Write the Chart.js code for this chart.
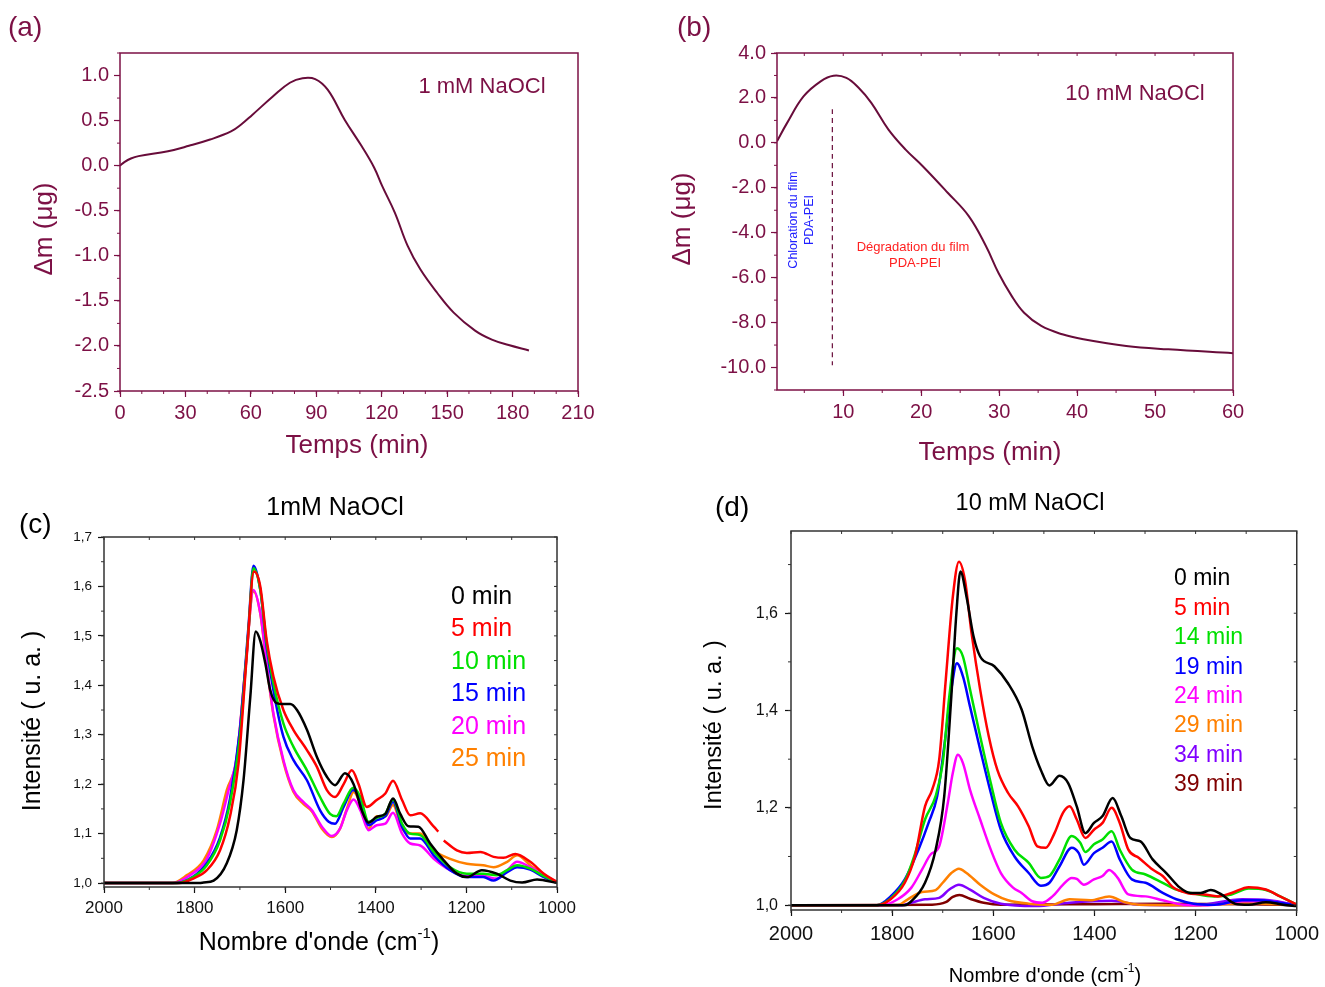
<!DOCTYPE html>
<html lang="fr">
<head>
  <meta charset="UTF-8">
  <title>PDA-PEI / NaOCl</title>
  <script src="https://cdn.jsdelivr.net/npm/chart.js"></script>
  <style>
    body { margin: 0; background: #fff; }
    #wrap { position: relative; width: 1325px; height: 987px; }
    canvas { position: absolute; }
  </style>
</head>
<body>
<div id="wrap">
  <canvas id="chartA" width="660" height="475" style="left:0;top:0"></canvas>
  <canvas id="chartB" width="665" height="475" style="left:660px;top:0"></canvas>
  <canvas id="chartC" width="660" height="512" style="left:0;top:475px"></canvas>
  <canvas id="chartD" width="665" height="512" style="left:660px;top:475px"></canvas>
</div>
<script>
// ---- data (a) : 1 mM NaOCl, QCM  [temps min, delta m ug]
const massA = [[0, 0.0], [2, 0.04], [5, 0.08], [8.5, 0.106], [22, 0.16], [31.6, 0.22], [41.3, 0.29], [50.9, 0.38],
  [55.7, 0.46], [60.5, 0.56], [70.2, 0.77], [77.9, 0.92], [83.7, 0.97], [89.5, 0.96], [95.3, 0.84], [103, 0.51],
  [110.7, 0.22], [116.5, -0.02], [120.3, -0.23], [126, -0.52], [131.9, -0.89], [137.7, -1.15], [145.4, -1.41],
  [153, -1.63], [162.8, -1.83], [170.5, -1.93], [178.2, -1.99], [187.5, -2.05]];

// ---- data (b) : 10 mM NaOCl, QCM
const massB = [[1.5, 0.07], [2.8, 0.89], [4.9, 2.07], [7.1, 2.74], [8.75, 2.99], [10.4, 2.89], [12.0, 2.44],
  [13.6, 1.78], [15.8, 0.59], [18, -0.3], [20.2, -1.04], [23.4, -2.22], [26.1, -3.26], [28.3, -4.59], [29.9, -5.78],
  [31.6, -6.81], [33.2, -7.56], [35.4, -8.15], [38.1, -8.52], [40.8, -8.74], [46.3, -9.04], [51.7, -9.19], [60, -9.36]];
const markerB = [[8.6, 1.5], [8.6, -9.9]];

// ---- data (c) : 1mM NaOCl IR spectra [nombre d'onde, intensite]
const cLabels = ['0 min', '5 min', '10 min', '15 min', '20 min', '25 min'];
const cColors = ['#000000', '#ff0000', '#00e000', '#0000ff', '#ff00ff', '#ff8000'];
const c0 = [[2000, 1.0], [1790, 1.0], [1780, 1.001], [1758, 1.005], [1729, 1.04], [1707, 1.107], [1692, 1.208],
  [1677, 1.377], [1665, 1.509], [1655, 1.49], [1644, 1.445], [1633, 1.39], [1619, 1.364], [1605, 1.362],
  [1589, 1.362], [1574, 1.35], [1552, 1.31], [1530, 1.255], [1508, 1.215], [1490, 1.198], [1468, 1.222],
  [1449, 1.20], [1431, 1.147], [1416, 1.122], [1398, 1.134], [1379, 1.14], [1362, 1.171], [1346, 1.14],
  [1328, 1.115], [1306, 1.114], [1280, 1.08], [1250, 1.046], [1221, 1.019], [1199, 1.012], [1166, 1.026],
  [1133, 1.019], [1103, 1.005], [1077, 1.001], [1044, 1.007], [1000, 1.0]];
const c5 = [[2000, 1.0], [1832, 1.0], [1803, 1.009], [1773, 1.026], [1744, 1.066], [1722, 1.134], [1703, 1.242],
  [1685, 1.458], [1669, 1.63], [1655, 1.60], [1641, 1.492], [1626, 1.418], [1604, 1.35], [1582, 1.31],
  [1552, 1.269], [1530, 1.235], [1508, 1.188], [1490, 1.174], [1471, 1.20], [1453, 1.228], [1438, 1.20],
  [1420, 1.154], [1398, 1.168], [1379, 1.181], [1362, 1.207], [1342, 1.168], [1324, 1.137], [1302, 1.141],
  [1272, 1.114], [1262, 1.104], [1256, null], [1250, 1.086], [1221, 1.066], [1199, 1.061], [1169, 1.063],
  [1140, 1.053], [1118, 1.051], [1092, 1.059], [1059, 1.043], [1029, 1.019], [1000, 1.002]];
const c10 = [[2000, 1.0], [1840, 1.0], [1803, 1.012], [1773, 1.036], [1744, 1.086], [1722, 1.161], [1700, 1.296],
  [1681, 1.512], [1670, 1.637], [1655, 1.593], [1641, 1.485], [1626, 1.404], [1604, 1.323], [1582, 1.276],
  [1552, 1.228], [1523, 1.174], [1501, 1.14], [1487, 1.135], [1471, 1.161], [1450, 1.193], [1434, 1.174],
  [1416, 1.124], [1398, 1.132], [1379, 1.14], [1362, 1.169], [1342, 1.12], [1324, 1.10], [1302, 1.097],
  [1272, 1.063], [1236, 1.032], [1199, 1.019], [1163, 1.019], [1133, 1.016], [1110, 1.026], [1088, 1.036],
  [1059, 1.029], [1029, 1.014], [1000, 1.002]];
const c15 = [[2000, 1.0], [1840, 1.0], [1803, 1.013], [1773, 1.04], [1744, 1.092], [1722, 1.17], [1700, 1.31],
  [1681, 1.52], [1670, 1.642], [1655, 1.593], [1641, 1.478], [1626, 1.39], [1604, 1.296], [1582, 1.249],
  [1552, 1.208], [1523, 1.147], [1504, 1.124], [1490, 1.12], [1471, 1.154], [1450, 1.188], [1434, 1.168],
  [1416, 1.117], [1398, 1.127], [1379, 1.135], [1362, 1.164], [1342, 1.114], [1324, 1.09], [1302, 1.09],
  [1272, 1.056], [1236, 1.026], [1199, 1.012], [1163, 1.012], [1140, 1.005], [1110, 1.022], [1088, 1.032],
  [1059, 1.027], [1029, 1.012], [1000, 1.001]];
const c20 = [[2000, 1.0], [1847, 1.0], [1810, 1.016], [1773, 1.049], [1744, 1.12], [1725, 1.188], [1707, 1.255],
  [1688, 1.431], [1670, 1.593], [1655, 1.546], [1641, 1.445], [1626, 1.343], [1604, 1.249], [1582, 1.188],
  [1560, 1.164], [1541, 1.147], [1519, 1.114], [1497, 1.095], [1479, 1.11], [1464, 1.147], [1449, 1.169],
  [1434, 1.147], [1416, 1.107], [1398, 1.117], [1379, 1.12], [1362, 1.142], [1342, 1.10], [1324, 1.08],
  [1302, 1.076], [1272, 1.049], [1236, 1.026], [1199, 1.014], [1163, 1.014], [1133, 1.009], [1110, 1.026],
  [1088, 1.043], [1059, 1.032], [1029, 1.016], [1000, 1.002]];
const c25 = [[2000, 1.0], [1850, 1.0], [1817, 1.016], [1780, 1.046], [1751, 1.107], [1729, 1.188], [1707, 1.252],
  [1688, 1.435], [1670, 1.59], [1655, 1.545], [1641, 1.44], [1626, 1.34], [1604, 1.245], [1582, 1.185],
  [1560, 1.16], [1541, 1.145], [1519, 1.11], [1497, 1.093], [1479, 1.11], [1464, 1.15], [1449, 1.184],
  [1434, 1.16], [1416, 1.11], [1398, 1.135], [1379, 1.135], [1362, 1.158], [1342, 1.11], [1324, 1.10],
  [1302, 1.10], [1272, 1.066], [1236, 1.049], [1199, 1.039], [1163, 1.036], [1140, 1.032], [1110, 1.043],
  [1088, 1.056], [1059, 1.036], [1029, 1.016], [1000, 1.002]];

// ---- data (d) : 10 mM NaOCl IR spectra
const dLabels = ['0 min', '5 min', '14 min', '19 min', '24 min', '29 min', '34 min', '39 min'];
const dColors = ['#000000', '#ff0000', '#00e000', '#0000ff', '#ff00ff', '#ff8000', '#8000ff', '#800000'];
const d0 = [[2000, 1.0], [1775, 1.0], [1762, 1.008], [1735, 1.046], [1714, 1.114], [1697, 1.224], [1683, 1.429],
  [1673, 1.60], [1665, 1.686], [1653, 1.634], [1639, 1.552], [1626, 1.511], [1598, 1.491], [1571, 1.456],
  [1544, 1.402], [1523, 1.326], [1506, 1.278], [1489, 1.246], [1469, 1.266], [1452, 1.251], [1435, 1.203],
  [1418, 1.148], [1401, 1.169], [1384, 1.183], [1364, 1.22], [1347, 1.183], [1329, 1.138], [1309, 1.131],
  [1285, 1.094], [1258, 1.066], [1231, 1.036], [1210, 1.025], [1190, 1.025], [1170, 1.031], [1149, 1.022],
  [1122, 1.003], [1095, 1.001], [1061, 1.006], [1027, 1.001], [1000, 0.998]];
const d5 = [[2000, 1.0], [1830, 1.0], [1803, 1.012], [1775, 1.046], [1755, 1.10], [1735, 1.203], [1721, 1.237],
  [1707, 1.299], [1694, 1.463], [1680, 1.634], [1668, 1.706], [1656, 1.668], [1643, 1.559], [1626, 1.443],
  [1609, 1.347], [1592, 1.278], [1571, 1.231], [1551, 1.203], [1530, 1.162], [1513, 1.121], [1496, 1.118],
  [1479, 1.148], [1462, 1.19], [1449, 1.203], [1435, 1.176], [1418, 1.138], [1401, 1.155], [1384, 1.169],
  [1366, 1.20], [1350, 1.169], [1333, 1.114], [1312, 1.097], [1285, 1.073], [1265, 1.060], [1244, 1.036],
  [1217, 1.025], [1183, 1.022], [1156, 1.018], [1129, 1.025], [1095, 1.037], [1061, 1.032], [1033, 1.018],
  [1000, 1.001]];
const d14 = [[2000, 1.0], [1830, 1.0], [1803, 1.014], [1775, 1.05], [1755, 1.105], [1735, 1.176], [1714, 1.224],
  [1700, 1.292], [1687, 1.429], [1672, 1.528], [1660, 1.511], [1646, 1.443], [1626, 1.347], [1605, 1.251],
  [1585, 1.169], [1558, 1.114], [1530, 1.087], [1506, 1.056], [1489, 1.06], [1469, 1.094], [1445, 1.142],
  [1428, 1.128], [1418, 1.109], [1401, 1.125], [1384, 1.135], [1366, 1.152], [1350, 1.114], [1326, 1.073],
  [1299, 1.063], [1265, 1.046], [1238, 1.032], [1204, 1.024], [1163, 1.018], [1129, 1.022], [1095, 1.034],
  [1061, 1.031], [1027, 1.015], [1000, 1.001]];
const d19 = [[2000, 1.0], [1830, 1.0], [1803, 1.018], [1775, 1.053], [1748, 1.114], [1728, 1.169], [1711, 1.224],
  [1697, 1.326], [1683, 1.443], [1672, 1.497], [1660, 1.47], [1646, 1.408], [1626, 1.32], [1605, 1.231],
  [1585, 1.155], [1558, 1.10], [1530, 1.066], [1506, 1.04], [1489, 1.046], [1469, 1.08], [1445, 1.118],
  [1431, 1.107], [1421, 1.083], [1401, 1.107], [1384, 1.118], [1366, 1.131], [1350, 1.094], [1326, 1.053],
  [1299, 1.046], [1265, 1.025], [1238, 1.012], [1204, 1.003], [1163, 1.001], [1108, 1.01], [1075, 1.01],
  [1040, 1.006], [1000, 1.0]];
const d24 = [[2000, 1.0], [1820, 1.0], [1789, 1.012], [1762, 1.036], [1741, 1.073], [1724, 1.104], [1707, 1.121],
  [1690, 1.21], [1680, 1.272], [1670, 1.309], [1660, 1.292], [1646, 1.237], [1626, 1.176], [1605, 1.114],
  [1585, 1.066], [1561, 1.036], [1544, 1.025], [1523, 1.008], [1503, 1.005], [1483, 1.018], [1462, 1.042],
  [1445, 1.056], [1435, 1.054], [1421, 1.042], [1401, 1.053], [1384, 1.06], [1371, 1.072], [1354, 1.056],
  [1333, 1.022], [1299, 1.018], [1265, 1.01], [1224, 1.001], [1176, 1.0], [1108, 1.008], [1061, 1.008],
  [1000, 1.0]];
const d29 = [[2000, 1.0], [1790, 1.0], [1769, 1.012], [1741, 1.027], [1714, 1.031], [1700, 1.046], [1683, 1.066],
  [1668, 1.075], [1653, 1.066], [1626, 1.042], [1598, 1.022], [1571, 1.01], [1530, 1.003], [1483, 1.001],
  [1449, 1.012], [1408, 1.01], [1371, 1.018], [1340, 1.006], [1312, 1.001], [1200, 1.0], [1100, 1.004],
  [1000, 1.0]];
const d34 = [[2000, 1.0], [1780, 1.0], [1762, 1.005], [1735, 1.012], [1707, 1.015], [1687, 1.032], [1668, 1.042],
  [1646, 1.032], [1619, 1.015], [1585, 1.003], [1517, 0.998], [1449, 1.005], [1366, 1.009], [1312, 1.001],
  [1200, 1.0], [1108, 1.012], [1054, 1.01], [1000, 1.0]];
const d39 = [[2000, 1.0], [1721, 1.001], [1694, 1.006], [1680, 1.017], [1667, 1.021], [1646, 1.013], [1619, 1.005],
  [1585, 1.001], [1400, 1.002], [1260, 1.003], [1100, 1.002], [1000, 1.0]];

// tick values
const aXTicks = [0, 30, 60, 90, 120, 150, 180, 210];
const aYTicks = [-2.5, -2.0, -1.5, -1.0, -0.5, 0.0, 0.5, 1.0];
const bXTicks = [10, 20, 30, 40, 50, 60];
const bYTicks = [-10, -8, -6, -4, -2, 0, 2, 4];
const irXTicks = [2000, 1800, 1600, 1400, 1200, 1000];
const cYTicks = [1.0, 1.1, 1.2, 1.3, 1.4, 1.5, 1.6, 1.7];
const dYTicks = [1.0, 1.2, 1.4, 1.6];

const FONT = "'Liberation Sans', Arial, 'DejaVu Sans', sans-serif";
const MAROON = '#7c1045';
const CURVE = '#680c3a';

// draws frame, minor ticks, free texts and the coloured-text legend
const decor = {
  id: 'decor',
  afterDraw(chart, args, o) {
    const ctx = chart.ctx, a = chart.chartArea;
    const [ox, oy] = o.origin;
    ctx.save();
    ctx.strokeStyle = o.frame;
    ctx.lineWidth = 1.5;
    ctx.strokeRect(a.left, a.top, a.right - a.left, a.bottom - a.top);

    ctx.lineWidth = 1;
    (o.minor || []).forEach(t => {
      const s = chart.scales[t.axis];
      ctx.beginPath();
      for (let i = 0; ; i++) {
        const v = t.from + i * t.step;
        if (v > t.to + 1e-9) break;
        const p = s.getPixelForValue(v);
        if (t.side === 'left') { ctx.moveTo(a.left, p); ctx.lineTo(a.left - t.len, p); }
        if (t.side === 'right') { ctx.moveTo(a.right, p); ctx.lineTo(a.right + t.len, p); }
        if (t.side === 'bottom') { ctx.moveTo(p, a.bottom); ctx.lineTo(p, a.bottom + t.len); }
        if (t.side === 'top') { ctx.moveTo(p, a.top); ctx.lineTo(p, a.top - t.len); }
      }
      ctx.stroke();
    });

    (o.texts || []).forEach(t => drawText(ctx, t, ox, oy));

    if (o.legend) {
      const L = o.legend;
      let k = 0;
      chart.data.datasets.forEach(ds => {
        if (!ds.label) return;
        drawText(ctx, {text: ds.label, x: L.x, y: L.y + k * L.dy, size: L.size, color: ds.borderColor, align: 'left'}, ox, oy);
        k++;
      });
    }
    ctx.restore();
  }
};

function drawText(ctx, item, ox, oy) {
  const size = item.size;
  const parts = Array.isArray(item.text) ? item.text : [{t: item.text}];
  ctx.save();
  ctx.translate(item.x - ox, item.y - oy);
  if (item.rot) ctx.rotate(item.rot * Math.PI / 180);
  ctx.fillStyle = item.color;
  ctx.textBaseline = 'middle';
  ctx.textAlign = 'left';
  const widths = parts.map(p => {
    ctx.font = (p.sup ? size * 0.6 : size) + 'px ' + FONT;
    return ctx.measureText(p.t).width;
  });
  const total = widths.reduce((s, w) => s + w, 0);
  let x = item.align === 'left' ? 0 : -total / 2;
  parts.forEach((p, i) => {
    ctx.font = (p.sup ? size * 0.6 : size) + 'px ' + FONT;
    ctx.fillText(p.t, x, p.sup ? -size * 0.38 : 0);
    x += widths[i];
  });
  ctx.restore();
}

// smooth: 'monotone' for spectra, bezier tension for the QCM curves
function line(label, pts, color, width, dash, smooth) {
  const ds = {
    label: label,
    data: pts.map(([x, y]) => ({x: x, y: y})),
    borderColor: color,
    borderWidth: width,
    borderDash: dash || [],
    pointRadius: 0,
    showLine: true,
    spanGaps: false
  };
  if (smooth === 'bezier') ds.tension = 0.4;
  else ds.cubicInterpolationMode = 'monotone';
  return ds;
}

function axis(o) {
  return {
    type: 'linear',
    min: o.min,
    max: o.max,
    reverse: !!o.reverse,
    afterFit: s => { if (o.w) s.width = o.w; if (o.h) s.height = o.h; },
    afterBuildTicks: s => { s.ticks = o.ticks.map(v => ({value: v})); },
    grid: { drawOnChartArea: false, tickLength: 6, tickColor: o.color, tickWidth: 1.2 },
    border: { display: false },
    ticks: {
      color: o.color,
      font: { family: FONT, size: o.size },
      padding: o.pad,
      maxRotation: 0,
      autoSkip: false,
      callback: o.fmt
    }
  };
}

function makeChart(id, datasets, scales, padding, decorOpts) {
  return new Chart(document.getElementById(id), {
    type: 'scatter',
    data: { datasets: datasets },
    options: {
      responsive: false,
      animation: false,
      layout: { padding: padding },
      scales: scales,
      plugins: { legend: { display: false }, tooltip: { enabled: false }, decor: decorOpts }
    },
    plugins: [decor]
  });
}

const dot = v => v.toFixed(1);
const comma = v => v.toFixed(1).replace('.', ',');
const cm = [{t: "Nombre d'onde (cm"}, {t: '-1', sup: true}, {t: ')'}];

// (a)
makeChart('chartA', [line(null, massA, CURVE, 2, null, 'bezier')], {
  x: axis({min: 0, max: 210, ticks: aXTicks, h: 84, color: MAROON, size: 20, pad: 4, fmt: v => String(v)}),
  y: axis({min: -2.5, max: 1.25, ticks: aYTicks, w: 120, color: MAROON, size: 20, pad: 5, fmt: dot})
}, {left: 0, top: 53, right: 82, bottom: 0}, {
  origin: [0, 0], frame: MAROON,
  minor: [
    {axis: 'x', side: 'bottom', from: 0, to: 210, step: 10, len: 3},
    {axis: 'y', side: 'left', from: -2.5, to: 1.25, step: 0.25, len: 3}
  ],
  texts: [
    {text: '(a)', x: 8, y: 28, size: 28, color: MAROON, align: 'left'},
    {text: '1 mM NaOCl', x: 482, y: 87, size: 22, color: MAROON},
    {text: 'Δm (μg)', x: 45, y: 229, size: 26, color: MAROON, rot: -90},
    {text: 'Temps (min)', x: 357, y: 446, size: 26, color: MAROON}
  ]
});

// (b)
makeChart('chartB', [line(null, massB, CURVE, 2, null, 'bezier'), line(null, markerB, CURVE, 1.2, [5, 4])], {
  x: axis({min: 1.5, max: 60, ticks: bXTicks, h: 85, color: MAROON, size: 20, pad: 4, fmt: v => String(v)}),
  y: axis({min: -11, max: 4, ticks: bYTicks, w: 117, color: MAROON, size: 20, pad: 5, fmt: dot})
}, {left: 0, top: 53, right: 92, bottom: 0}, {
  origin: [660, 0], frame: MAROON,
  minor: [
    {axis: 'x', side: 'bottom', from: 5, to: 60, step: 5, len: 3},
    {axis: 'x', side: 'top', from: 5, to: 55, step: 5, len: -3},
    {axis: 'y', side: 'left', from: -11, to: 4, step: 1, len: 3}
  ],
  texts: [
    {text: '(b)', x: 677, y: 28, size: 28, color: MAROON, align: 'left'},
    {text: '10 mM NaOCl', x: 1135, y: 94, size: 22, color: MAROON},
    {text: 'Δm (μg)', x: 683, y: 219, size: 26, color: MAROON, rot: -90},
    {text: 'Temps (min)', x: 990, y: 453, size: 26, color: MAROON},
    {text: 'Chloration du film', x: 794, y: 220, size: 12.5, color: '#2020ff', rot: -90},
    {text: 'PDA-PEI', x: 810, y: 220, size: 12.5, color: '#2020ff', rot: -90},
    {text: 'Dégradation du film', x: 913, y: 247, size: 13, color: '#ff2020'},
    {text: 'PDA-PEI', x: 915, y: 263, size: 13, color: '#ff2020'}
  ]
});

// (c)
const cSeries = [c0, c5, c10, c15, c20, c25];
makeChart('chartC', cSeries.map((s, i) => line(cLabels[i], s, cColors[i], 2.5)), {
  x: axis({min: 1000, max: 2000, reverse: true, ticks: irXTicks, h: 100, color: '#111', size: 17, pad: 5, fmt: v => String(v)}),
  y: axis({min: 0.992, max: 1.7, ticks: cYTicks, w: 104, color: '#111', size: 13.5, pad: 6, fmt: comma})
}, {left: 0, top: 62, right: 103, bottom: 0}, {
  origin: [0, 475], frame: '#333',
  minor: [
    {axis: 'x', side: 'bottom', from: 1000, to: 2000, step: 100, len: 3},
    {axis: 'x', side: 'top', from: 1000, to: 2000, step: 100, len: -3},
    {axis: 'y', side: 'left', from: 1.0, to: 1.7, step: 0.05, len: 3},
    {axis: 'y', side: 'right', from: 1.0, to: 1.7, step: 0.05, len: -3}
  ],
  texts: [
    {text: '(c)', x: 19, y: 525, size: 28, color: '#000', align: 'left'},
    {text: '1mM NaOCl', x: 335, y: 508, size: 25, color: '#000'},
    {text: 'Intensité ( u. a. )', x: 33, y: 721, size: 25, color: '#000', rot: -90},
    {text: cm, x: 319, y: 943, size: 25, color: '#000'}
  ],
  legend: {x: 451, y: 597, dy: 32.5, size: 25}
});

// (d)
const dSeries = [d0, d5, d14, d19, d24, d29, d34, d39];
makeChart('chartD', dSeries.map((s, i) => line(dLabels[i], s, dColors[i], 2.5)), {
  x: axis({min: 1000, max: 2000, reverse: true, ticks: irXTicks, h: 77, color: '#111', size: 20, pad: 6, fmt: v => String(v)}),
  y: axis({min: 0.99, max: 1.769, ticks: dYTicks, w: 131, color: '#111', size: 16, pad: 7, fmt: comma})
}, {left: 0, top: 56, right: 25, bottom: 0}, {
  origin: [660, 475], frame: '#333',
  minor: [
    {axis: 'x', side: 'bottom', from: 1000, to: 2000, step: 100, len: 3},
    {axis: 'x', side: 'top', from: 1000, to: 2000, step: 100, len: -3},
    {axis: 'y', side: 'left', from: 1.0, to: 1.7, step: 0.1, len: 3},
    {axis: 'y', side: 'right', from: 1.0, to: 1.7, step: 0.1, len: -3}
  ],
  texts: [
    {text: '(d)', x: 715, y: 508, size: 28, color: '#000', align: 'left'},
    {text: '10 mM NaOCl', x: 1030, y: 504, size: 23.5, color: '#000'},
    {text: 'Intensité ( u. a. )', x: 715, y: 725, size: 23.5, color: '#000', rot: -90},
    {text: cm, x: 1045, y: 976, size: 20, color: '#000'}
  ],
  legend: {x: 1174, y: 579, dy: 29.4, size: 23}
});
</script>
</body>
</html>
